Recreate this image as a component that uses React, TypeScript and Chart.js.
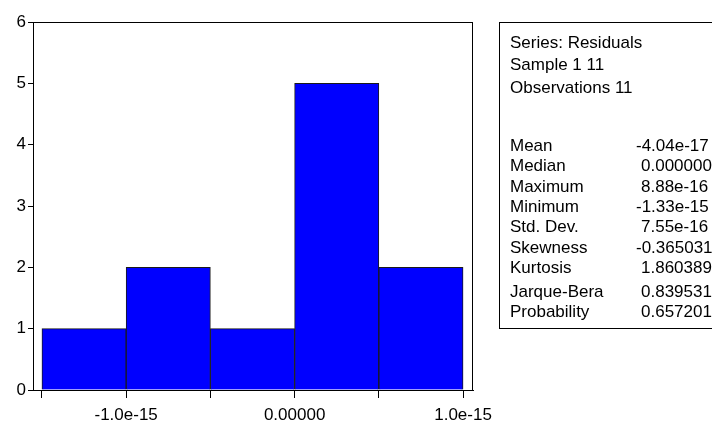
import React, { useEffect, useRef } from "react";
import { Chart, registerables } from "chart.js";

Chart.register(...registerables);

// Histogram data
const binEdges = [-1.5e-15, -1.0e-15, -0.5e-15, 0, 0.5e-15, 1.0e-15];
const binCounts = [1, 2, 1, 5, 2];
const xTickValues = [-1.5e-15, -1.0e-15, -0.5e-15, 0, 0.5e-15, 1.0e-15];
const xTickLabels = ["", "-1.0e-15", "", "0.00000", "", "1.0e-15"];
const yTicks = [0, 1, 2, 3, 4, 5, 6];

// Statistics panel
const headerLines = ["Series: Residuals", "Sample 1 11", "Observations 11"];
const statNames = ["Mean", "Median", "Maximum", "Minimum", "Std. Dev.", "Skewness", "Kurtosis"];
const statValues = ["-4.04e-17", "0.000000", "8.88e-16", "-1.33e-15", "7.55e-16", "-0.365031", "1.860389"];
const testNames = ["Jarque-Bera", "Probability"];
const testValues = ["0.839531", "0.657201"];

const FONT = 'Arial, "Liberation Sans", sans-serif';

export default function App() {
  const ref = useRef<HTMLCanvasElement | null>(null);

  useEffect(() => {
    if (!ref.current) return;
    const points = binCounts.map((c, i) => ({ x: (binEdges[i] + binEdges[i + 1]) / 2, y: c }));
    const framePlugin = {
      id: "frame",
      afterDraw(chart: any) {
        const { ctx, chartArea } = chart;
        ctx.save();
        ctx.strokeStyle = "#000";
        ctx.lineWidth = 1;
        ctx.strokeRect(chartArea.left + 0.5, chartArea.top + 0.5, chartArea.right - chartArea.left - 1, chartArea.bottom - chartArea.top);
        ctx.restore();
      },
    };
    const chart = new Chart(ref.current, {
      type: "bar",
      data: {
        datasets: [
          {
            data: points as any,
            backgroundColor: "#0000FF",
            borderColor: "#1a1a1a",
            borderWidth: 1,
            barPercentage: 1,
            categoryPercentage: 1,
          },
        ],
      },
      options: {
        responsive: false,
        animation: false,
        devicePixelRatio: 1,
        layout: { padding: { top: 22, right: 27, bottom: 0, left: 0 } },
        plugins: { legend: { display: false }, tooltip: { enabled: false } },
        scales: {
          x: {
            type: "linear",
            offset: false,
            min: -1.553e-15,
            max: 1.059e-15,
            afterBuildTicks(scale: any) {
              scale.ticks = xTickValues.map((v) => ({ value: v }));
            },
            afterFit(scale: any) {
              scale.height = 33;
            },
            ticks: {
              autoSkip: false,
              maxRotation: 0,
              padding: 7,
              color: "#000",
              font: { family: FONT, size: 17 },
              callback: (v: any) => {
                const i = xTickValues.findIndex((t) => Math.abs(t - Number(v)) < 1e-18);
                return i >= 0 ? xTickLabels[i] : "";
              },
            },
            grid: { offset: false, drawOnChartArea: false, drawTicks: true, tickLength: 8, color: "#000", lineWidth: 1 },
            border: { display: true, color: "#000", width: 1 },
          },
          y: {
            min: 0,
            max: 6,
            afterBuildTicks(scale: any) {
              scale.ticks = yTicks.map((v) => ({ value: v }));
            },
            afterFit(scale: any) {
              scale.width = 33;
            },
            ticks: {
              padding: 2,
              color: "#000",
              font: { family: FONT, size: 17 },
            },
            grid: { offset: false, drawOnChartArea: false, drawTicks: true, tickLength: 5, color: "#000", lineWidth: 1 },
            border: { display: true, color: "#000", width: 1 },
          },
        },
      },
      plugins: [framePlugin],
    });
    return () => chart.destroy();
  }, []);

  const BOX_TOP = 22;
  const LH = 20;
  const lineStyle = (center: number): React.CSSProperties => ({
    position: "absolute",
    top: center - BOX_TOP - 1 - LH / 2,
    left: 10,
    whiteSpace: "nowrap",
    lineHeight: LH + "px",
  });
  const valueStyle = (center: number, v: string): React.CSSProperties => ({
    position: "absolute",
    top: center - BOX_TOP - 1 - LH / 2,
    left: v.startsWith("-") ? 136 : 141,
    whiteSpace: "nowrap",
    lineHeight: LH + "px",
  });

  const headerCenters = [43, 65, 88];
  const statCenters = statNames.map((_, i) => 146 + i * 20.3);
  const testCenters = [292, 312];

  return (
    <div style={{ position: "absolute", left: 0, top: 0, width: 712, height: 423, overflow: "hidden", background: "#fff" }}>
      <canvas ref={ref} width={500} height={423} style={{ position: "absolute", left: 0, top: 0 }} />
      <div
        style={{
          position: "absolute",
          left: 499,
          top: BOX_TOP,
          width: 260,
          height: 305,
          border: "1px solid #000",
          fontFamily: FONT,
          fontSize: 17,
          color: "#000",
        }}
      >
        {headerLines.map((t, i) => (
          <div key={t} style={lineStyle(headerCenters[i])}>{t}</div>
        ))}
        {statNames.map((n, i) => (
          <React.Fragment key={n}>
            <div style={lineStyle(statCenters[i])}>{n}</div>
            <div style={valueStyle(statCenters[i], statValues[i])}>{statValues[i]}</div>
          </React.Fragment>
        ))}
        {testNames.map((n, i) => (
          <React.Fragment key={n}>
            <div style={lineStyle(testCenters[i])}>{n}</div>
            <div style={valueStyle(testCenters[i], testValues[i])}>{testValues[i]}</div>
          </React.Fragment>
        ))}
      </div>
    </div>
  );
}
